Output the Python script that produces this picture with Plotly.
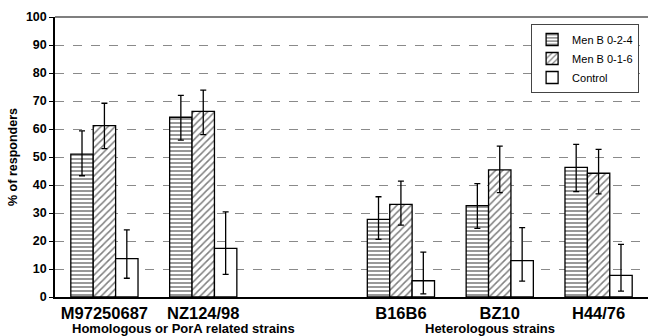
import plotly.graph_objects as go

strains = ["M97250687", "NZ124/98", "B16B6", "BZ10", "H44/76"]
series_names = ["Men B 0-2-4", "Men B 0-1-6", "Control"]

men_b_024 = [51.0, 64.2, 27.7, 32.6, 46.3]
men_b_024_err_plus = [8.3, 7.8, 8.1, 7.9, 8.2]
men_b_024_err_minus = [7.7, 8.2, 7.1, 8.1, 8.7]

men_b_016 = [61.2, 66.3, 33.1, 45.4, 44.2]
men_b_016_err_plus = [8.0, 7.6, 8.3, 8.5, 8.5]
men_b_016_err_minus = [8.2, 8.3, 7.4, 8.1, 7.4]

control = [13.7, 17.4, 5.8, 13.0, 7.7]
control_err_plus = [10.3, 13.0, 10.2, 11.8, 11.1]
control_err_minus = [7.0, 9.3, 4.7, 7.3, 5.6]

group_labels = ["Homologous or PorA related strains", "Heterologous strains"]

y_ticks = [0, 10, 20, 30, 40, 50, 60, 70, 80, 90, 100]

# positions: leave an empty slot between the two strain groups
xpos = [i if i < 2 else i + 1 for i in range(len(strains))]

FONT = "Liberation Sans, Arial, sans-serif"

fig = go.Figure()

styles = [
    dict(shape="-", size=4, solidity=0.4),
    dict(shape="/", size=5, solidity=0.3),
    dict(shape="", size=5, solidity=0.3),
]
vals = [men_b_024, men_b_016, control]
ep = [men_b_024_err_plus, men_b_016_err_plus, control_err_plus]
em = [men_b_024_err_minus, men_b_016_err_minus, control_err_minus]

for name, v, p, m, st in zip(series_names, vals, ep, em, styles):
    fig.add_trace(go.Bar(
        x=xpos, y=v, name=name,
        marker=dict(color="white", line=dict(color="black", width=1.3),
                    pattern=dict(shape=st["shape"], fgcolor="black", bgcolor="white",
                                 size=st["size"], solidity=st["solidity"], fillmode="overlay")),
        error_y=dict(type="data", symmetric=False, array=p, arrayminus=m,
                     color="black", thickness=1.3, width=3),
    ))

fig.update_layout(
    width=649, height=336,
    margin=dict(l=54.5, r=0.5, t=17, b=39, autoexpand=False),
    paper_bgcolor="white", plot_bgcolor="white",
    barmode="group", bargap=0.32, bargroupgap=0,
    font=dict(family=FONT, color="black"),
    showlegend=True,
    legend=dict(x=0.985, y=0.975, xanchor="right", yanchor="top",
                bgcolor="white", bordercolor="#444", borderwidth=1,
                font=dict(size=11, family=FONT, color="black"), tracegroupgap=0,
                itemwidth=30),
    xaxis=dict(range=[-0.5, 5.5], tickmode="array", tickvals=xpos, ticktext=strains,
               automargin=False,
               showgrid=False, zeroline=False, showline=True, linecolor="black", linewidth=1.5,
               ticks="", tickfont=dict(size=16.5, family=FONT, weight="bold", color="black")),
    yaxis=dict(range=[0, 100], tickmode="array", tickvals=y_ticks, automargin=False,
               showgrid=True, gridcolor="#8a8a8a", griddash="dash", gridwidth=1,
               zeroline=False, showline=True, linecolor="black", linewidth=1.5,
               ticks="outside", ticklen=4, tickcolor="black",
               tickfont=dict(size=12.5, family=FONT, weight="bold", color="black"),
               title=dict(text="% of responders",
                          font=dict(size=12.5, family=FONT, weight="bold", color="black"),
                          standoff=6)),
)

# top border line
fig.add_shape(type="line", xref="paper", yref="paper", x0=0, x1=1, y0=1, y1=1,
              line=dict(color="#555", width=1.5))

# group labels
fig.add_annotation(text=group_labels[0], xref="x", yref="paper",
                   x=(xpos[0] + xpos[1]) / 2 + 0.3, y=-0.112, yanchor="middle", showarrow=False,
                   font=dict(size=13, family=FONT, weight="bold", color="black"))
fig.add_annotation(text=group_labels[1], xref="x", yref="paper",
                   x=xpos[3] - 0.1, y=-0.112, yanchor="middle", showarrow=False,
                   font=dict(size=13, family=FONT, weight="bold", color="black"))

fig.write_html("out.html", config={"displayModeBar": False},
               post_script="document.body.style.margin='0';document.body.style.padding='0';")
